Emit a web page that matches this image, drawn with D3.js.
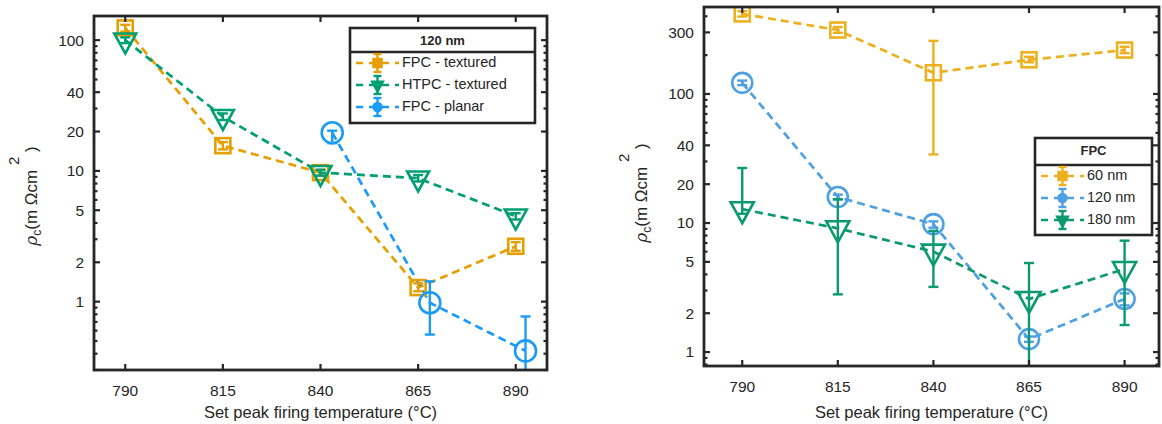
<!DOCTYPE html>
<html>
<head>
<meta charset="utf-8">
<script src="https://cdn.jsdelivr.net/npm/d3@7"></script>
<style>
body { margin: 0; background: #fff; }
svg text { font-family: "Liberation Sans", Arial, sans-serif; fill: #262626; }
</style>
</head>
<body>
<script>
// ---- data, left panel (120 nm) ----
var tempsL = [790, 815, 840, 865, 890];
var fpcTexVal = [124, 15.6, 9.7, 1.28, 2.65];
var fpcTexLo = [116, 14.6, 9.2, 1.2, 2.45];
var fpcTexHi = [131, 16.6, 10.2, 1.38, 2.85];
var htpcTexVal = [100, 26, 9.7, 8.8, 4.5];
var htpcTexLo = [95, 24.5, 9.2, 8.3, 4.25];
var htpcTexHi = [105, 27.5, 10.2, 9.3, 4.75];
var planarTemps = [843, 868, 892.5];
var planarVal = [19.6, 0.98, 0.42];
var planarLo = [16.3, 0.56, 0.25];
var planarHi = [20.3, 1.43, 0.77];

// ---- data, right panel (FPC) ----
var tempsR = [790, 815, 840, 865, 890];
var v60 = [417, 313, 146, 184, 219];
var v60Lo = [398, 298, 34, 176, 207];
var v60Hi = [438, 330, 258, 194, 232];
var v120 = [122, 15.9, 9.8, 1.26, 2.58];
var v120Lo = [117, 15.2, 9.2, 1.2, 2.3];
var v120Hi = [127, 16.6, 10.3, 1.32, 2.85];
var v180 = [12.8, 9.1, 6.0, 2.58, 4.4];
var v180Lo = [11.8, 2.8, 3.2, 0.5, 1.62];
var v180Hi = [26.7, 15.3, 8.7, 4.9, 7.3];

var xTicks = [790, 815, 840, 865, 890];
var yTicksL = [1, 2, 5, 10, 20, 40, 100];
var yTicksR = [1, 2, 5, 10, 20, 40, 100, 300];

var svg = d3.select("body").append("svg")
    .attr("width", 1162).attr("height", 424);

var AX = "#262626";

function zip(t, v, lo, hi) {
    return t.map(function(d, i) { return { x: d, y: v[i], lo: lo[i], hi: hi[i] }; });
}

function drawMarker(g, type, color, size, filled) {
    var sw = filled ? 1.5 : 2.6;
    var fill = filled ? color : "none";
    if (type === "square") {
        g.append("rect").attr("x", -size / 2).attr("y", -size / 2)
            .attr("width", size).attr("height", size)
            .attr("fill", fill).attr("stroke", color).attr("stroke-width", sw);
    } else if (type === "circle") {
        g.append("circle").attr("r", size / 2)
            .attr("fill", fill).attr("stroke", color).attr("stroke-width", sw);
    } else {
        var w = size * 1.1, h = size;
        g.append("path")
            .attr("d", "M0," + (2 * h / 3) + "L" + (-w / 2) + "," + (-h / 3) + "L" + (w / 2) + "," + (-h / 3) + "Z")
            .attr("fill", fill).attr("stroke", color).attr("stroke-width", sw)
            .attr("stroke-linejoin", "miter");
    }
}

function panel(opt) {
    var g = svg.append("g");
    var x = d3.scaleLinear().domain(opt.xDom).range([opt.left, opt.right]);
    var y = d3.scaleLog().domain(opt.yDom).range([opt.bottom, opt.top]);

    var clipId = "clip" + opt.id;
    svg.append("clipPath").attr("id", clipId).append("rect")
        .attr("x", opt.left).attr("y", opt.top)
        .attr("width", opt.right - opt.left).attr("height", opt.bottom - opt.top);

    var plot = g.append("g").attr("clip-path", "url(#" + clipId + ")");

    opt.series.forEach(function(s) {
        var line = d3.line().x(function(d) { return x(d.x); }).y(function(d) { return y(d.y); });
        plot.append("path").datum(s.data).attr("d", line)
            .attr("fill", "none").attr("stroke", s.color)
            .attr("stroke-width", 2.7).attr("stroke-dasharray", "8,5");
    });
    opt.series.forEach(function(s) {
        s.data.forEach(function(d) {
            var px = x(d.x);
            var eb = plot.append("g").attr("stroke", s.color).attr("stroke-width", 2.4);
            eb.append("line").attr("x1", px).attr("x2", px).attr("y1", y(d.lo)).attr("y2", y(d.hi));
            eb.append("line").attr("x1", px - 5).attr("x2", px + 5).attr("y1", y(d.lo)).attr("y2", y(d.lo));
            eb.append("line").attr("x1", px - 5).attr("x2", px + 5).attr("y1", y(d.hi)).attr("y2", y(d.hi));
            var m = plot.append("g").attr("transform", "translate(" + px + "," + y(d.y) + ")");
            drawMarker(m, s.marker, s.color, s.size, false);
        });
    });

    // axes: ticks inward, mirrored on top and right
    var minor = [];
    var lo = opt.yDom[0], hi = opt.yDom[1];
    for (var e = -1; e <= 3; e++) {
        for (var k = 1; k <= 9; k++) {
            var v = k * Math.pow(10, e);
            if (v >= lo && v <= hi) minor.push(v);
        }
    }
    var ax = g.append("g").attr("stroke", AX).attr("stroke-width", 2.2);
    minor.forEach(function(v) {
        var len = opt.yTicks.indexOf(v) >= 0 ? 6 : 3.5;
        var py = y(v);
        ax.append("line").attr("x1", opt.left).attr("x2", opt.left + len).attr("y1", py).attr("y2", py);
        ax.append("line").attr("x1", opt.right).attr("x2", opt.right - len).attr("y1", py).attr("y2", py);
    });
    xTicks.forEach(function(t) {
        var px = x(t);
        ax.append("line").attr("x1", px).attr("x2", px).attr("y1", opt.bottom).attr("y2", opt.bottom - 6);
        ax.append("line").attr("x1", px).attr("x2", px).attr("y1", opt.top).attr("y2", opt.top + 6);
    });
    g.append("rect").attr("x", opt.left).attr("y", opt.top)
        .attr("width", opt.right - opt.left).attr("height", opt.bottom - opt.top)
        .attr("fill", "none").attr("stroke", AX).attr("stroke-width", 2.8);

    g.selectAll(".yl").data(opt.yTicks).enter().append("text")
        .attr("x", opt.left - 10).attr("y", function(d) { return y(d); })
        .attr("dy", "0.35em").attr("text-anchor", "end")
        .style("font-size", "15.5px").text(function(d) { return d; });
    g.selectAll(".xl").data(xTicks).enter().append("text")
        .attr("x", function(d) { return x(d); }).attr("y", opt.bottom + 26)
        .attr("text-anchor", "middle")
        .style("font-size", "15.5px").text(function(d) { return d; });

    g.append("text").attr("x", (opt.left + opt.right) / 2 - 0).attr("y", 418)
        .attr("text-anchor", "middle").style("font-size", "16.5px")
        .text("Set peak firing temperature (\u00B0C)");

    // y label
    var yl = g.append("text")
        .attr("transform", "translate(" + opt.ylabX + "," + opt.ylabY + ") rotate(-90)")
        .attr("text-anchor", "middle").style("font-size", "17px");
    yl.append("tspan").style("font-style", "italic").style("font-family", "'DejaVu Serif', serif").text("\u03C1");
    yl.append("tspan").attr("dy", 4).style("font-size", "12px").text("c");
    yl.append("tspan").attr("dy", -4).text("(m \u03A9cm ");
    yl.append("tspan").attr("dy", -18).style("font-size", "15px").text("2");
    yl.append("tspan").attr("dy", 18).text(" )");

    // legend
    var L = opt.legend;
    var lg = g.append("g");
    lg.append("rect").attr("x", L.x).attr("y", L.y).attr("width", L.w).attr("height", L.h)
        .attr("fill", "#fff").attr("stroke", AX).attr("stroke-width", 2.6);
    lg.append("line").attr("x1", L.x).attr("x2", L.x + L.w).attr("y1", L.sep).attr("y2", L.sep)
        .attr("stroke", AX).attr("stroke-width", 2.6);
    lg.append("text").attr("x", L.x + L.w / 2).attr("y", L.y + 17).attr("text-anchor", "middle")
        .style("font-size", "13px").style("font-weight", "bold").text(L.title);
    opt.series.forEach(function(s, i) {
        var ly = L.sep + 11 + i * 22;
        var lx = L.x + 6;
        lg.append("line").attr("x1", lx).attr("x2", lx + 43).attr("y1", ly).attr("y2", ly)
            .attr("stroke", s.color).attr("stroke-width", 2.6).attr("stroke-dasharray", "7,6");
        var cx = lx + 21.5;
        var eb = lg.append("g").attr("stroke", s.color).attr("stroke-width", 2.4);
        eb.append("line").attr("x1", cx).attr("x2", cx).attr("y1", ly - 9).attr("y2", ly + 9);
        eb.append("line").attr("x1", cx - 4).attr("x2", cx + 4).attr("y1", ly - 9).attr("y2", ly - 9);
        eb.append("line").attr("x1", cx - 4).attr("x2", cx + 4).attr("y1", ly + 9).attr("y2", ly + 9);
        var m = lg.append("g").attr("transform", "translate(" + cx + "," + ly + ")");
        drawMarker(m, s.marker, s.color, s.marker === "tri" ? 11 : 9, true);
        lg.append("text").attr("x", lx + 46).attr("y", ly - 1).attr("dy", "0.35em")
            .style("font-size", "14.5px").text(s.name);
    });
}

panel({
    id: "L", left: 94, right: 547, top: 16, bottom: 370,
    xDom: [782, 898], yDom: [0.3, 153], yTicks: yTicksL,
    ylabX: 37, ylabY: 196,
    series: [
        { name: "FPC - textured", color: "#E69F00", marker: "square", size: 15, data: zip(tempsL, fpcTexVal, fpcTexLo, fpcTexHi) },
        { name: "HTPC - textured", color: "#009E73", marker: "tri", size: 20, data: zip(tempsL, htpcTexVal, htpcTexLo, htpcTexHi) },
        { name: "FPC - planar", color: "#1A9BF7", marker: "circle", size: 21, data: zip(planarTemps, planarVal, planarLo, planarHi) }
    ],
    legend: { x: 350, y: 28, w: 185, h: 95, sep: 52, title: "120 nm" }
});

panel({
    id: "R", left: 704, right: 1159, top: 7, bottom: 366,
    xDom: [780, 899], yDom: [0.78, 472], yTicks: yTicksR,
    ylabX: 647, ylabY: 193,
    series: [
        { name: "60 nm", color: "#EDB120", marker: "square", size: 15, data: zip(tempsR, v60, v60Lo, v60Hi) },
        { name: "120 nm", color: "#4FA0E3", marker: "circle", size: 20, data: zip(tempsR, v120, v120Lo, v120Hi) },
        { name: "180 nm", color: "#0B9970", marker: "tri", size: 21, data: zip(tempsR, v180, v180Lo, v180Hi) }
    ],
    legend: { x: 1035, y: 138, w: 117, h: 97, sep: 165, title: "FPC" }
});
</script>
</body>
</html>
